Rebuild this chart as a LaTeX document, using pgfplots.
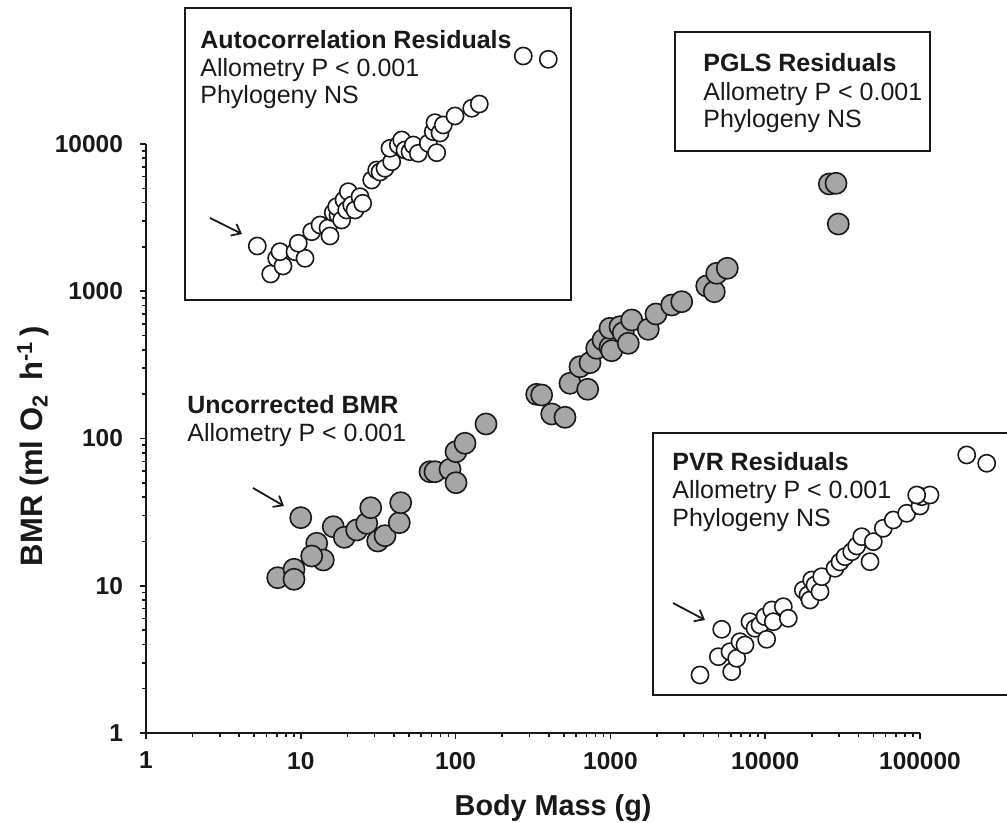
\documentclass[border=0pt]{standalone}
\usepackage{fontspec}
\setmainfont{Liberation Sans}
\usepackage{pgfplots}
\pgfplotsset{compat=1.18}
\usetikzlibrary{arrows.meta}
\definecolor{dotgray}{RGB}{166,166,166}
\definecolor{ink}{RGB}{25,25,25}

% uncorrected BMR (grey)
\pgfplotstableread{
mass bmr
9.99 29.0
7.09 11.34
9.04 12.93
9.04 11.06
12.67 19.43
13.98 14.96
11.76 15.92
16.21 25.18
19.10 21.33
22.97 23.91
26.66 26.56
28.29 33.89
31.39 20.13
34.99 21.88
43.28 26.81
44.19 36.64
68.33 59.5
73.6 59.5
92.0 61.8
100.6 50.1
100.6 81.4
115.0 92.8
157.2 125.5
334.1 199.6
359.8 197.4
417.7 146.7
508.9 139.3
548.2 237.1
713.5 215.9
636.1 307.3
738.3 327.2
815.6 410.0
896 467
994.0 416.4
1019.5 394.8
994.0 560.2
1153 574.4
1211 523.0
1305 443.0
1373 638.0
1757 551.5
1970 700.7
2489 806.5
2888 849.2
4190 1086
4691 993
4861 1324
5691 1432
25950 5350
28670 5408
29660 2861
}\uncorrected

% autocorrelation residuals (white, top-left panel)
\pgfplotstableread{
mass bmr
273.7 39590
397.1 37600
5.236 2029
6.391 1310
6.987 1674
7.674 1484
7.338 1856
9.173 1856
10.65 1674
9.634 2117
11.76 2537
13.31 2818
14.99 2688
15.44 2373
16.21 3416
17.4 3294
17.06 3752
18.37 3047
19.01 4166
19.79 3562
20.27 4744
21.32 3852
22.39 3562
24.13 4387
25.11 3956
28.71 5693
30.93 6658
32.48 6452
34.99 6839
38.66 7584
37.69 9350
42.65 9845
44.86 10650
47.11 9106
50.75 8866
53.30 9845
57.41 8646
66.62 10110
75.48 8729
71.78 12120
73.6 13950
79.30 11875
83.27 13460
99.1 15500
127.1 17480
142.3 18690
}\autocorr

% PVR residuals (white, bottom-right panel)
\pgfplotstableread{
mass bmr
200300 77.3
269700 67.9
3792 2.477
4979 3.298
5236 5.061
5923 3.565
6075 2.608
6545 3.216
6875 4.169
7405 3.959
7977 5.699
8595 5.141
9256 5.412
9970 6.164
10220 4.328
11020 6.843
11280 5.699
13090 7.206
14100 6.011
17630 9.357
18900 8.653
19470 8.003
19970 10.94
20970 10.12
22600 9.113
23170 11.52
28240 13.14
30420 14.50
32770 15.75
36220 17.03
39000 18.62
42020 21.54
47530 14.57
49930 19.92
57930 24.55
67220 27.96
82040 31.05
100000 34.8
102600 40.26
116000 41.33
95210 41.33
}\pvr

\begin{document}
\begin{tikzpicture}
\useasboundingbox (0,0) rectangle (503.5pt,411.5pt);

\begin{axis}[
    at={(73pt,45pt)}, anchor=south west,
    scale only axis, width=387pt, height=294.5pt,
    xmode=log, ymode=log,
    xmin=1, xmax=100000, ymin=1, ymax=10000,
    axis x line*=bottom, axis y line*=left,
    axis line style={ink, line width=1pt},
    clip=false,
    tick align=outside,
    major tick length=3pt, minor tick length=2pt,
    every tick/.style={ink, line width=0.8pt},
    xtick={1,10,100,1000,10000,100000},
    xticklabels={1,10,100,1000,10000,100000},
    minor xtick={2,3,4,5,6,7,8,9,20,30,40,50,60,70,80,90,200,300,400,500,600,700,800,900,2000,3000,4000,5000,6000,7000,8000,9000,20000,30000,40000,50000,60000,70000,80000,90000},
    ytick={1,10,100,1000,10000},
    yticklabels={1,10,100,1000,10000},
    minor ytick={2,3,4,5,6,7,8,9,20,30,40,50,60,70,80,90,200,300,400,500,600,700,800,900,2000,3000,4000,5000,6000,7000,8000,9000},
    ticklabel style={font=\bfseries\fontsize{12.25}{14}\selectfont, text=ink},
    xticklabel style={yshift=-3pt},
    yticklabel style={xshift=-5pt},
    xlabel={Body Mass (g)},
    ylabel={BMR (ml O\textsubscript{2}\, h\textsuperscript{-1}\,)},
    xlabel style={font=\bfseries\fontsize{14.4}{16}\selectfont, text=ink,
        at={(axis description cs:0.526,-0.127)}, anchor=center},
    ylabel style={font=\bfseries\fontsize{15.5}{17}\selectfont, text=ink,
        at={(axis description cs:-0.146,0.487)}, anchor=center},
]
\addplot[only marks, mark=*, mark size=5.3pt,
    mark options={fill=dotgray, draw=ink, line width=0.8pt}]
    table[x=mass, y=bmr] {\uncorrected};
\addplot[only marks, mark=*, mark size=4.3pt,
    mark options={fill=white, draw=ink, line width=0.8pt}]
    table[x=mass, y=bmr] {\autocorr};
\addplot[only marks, mark=*, mark size=4.3pt,
    mark options={fill=white, draw=ink, line width=0.8pt}]
    table[x=mass, y=bmr] {\pvr};
\end{axis}

% annotations, in pixel units measured from the top-left corner
\begin{scope}[x=0.5pt, y=-0.5pt, yshift=411.5pt]
  \draw[ink, line width=1pt] (185,8) rectangle (571,300);
  \draw[ink, line width=1pt] (675,32) rectangle (930,151);
  \draw[ink, line width=1pt] (1010,433) -- (653,433) -- (653,695) -- (1010,695);

  \tikzset{lbl/.style={anchor=base west, inner sep=0pt, text=ink,
      font=\fontsize{12.5}{14}\selectfont},
    ttl/.style={lbl, font=\bfseries\fontsize{12.5}{14}\selectfont},
    pointer/.style={ink, line width=0.9pt,
      -{Straight Barb[length=4pt,width=6.5pt]}}}

  \node[ttl] at (200,49) {Autocorrelation Residuals};
  \node[lbl] at (200,77) {Allometry P < 0.001};
  \node[lbl] at (200,104) {Phylogeny NS};

  \node[ttl] at (703,72) {PGLS Residuals};
  \node[lbl] at (703,101) {Allometry P < 0.001};
  \node[lbl] at (703,128) {Phylogeny NS};

  \node[ttl] at (672,471) {PVR Residuals};
  \node[lbl] at (672,499) {Allometry P < 0.001};
  \node[lbl] at (672,527) {Phylogeny NS};

  \node[ttl] at (187,414) {Uncorrected BMR};
  \node[lbl] at (187,442) {Allometry P < 0.001};

  \draw[pointer] (210,218) -- (242,234);
  \draw[pointer] (253,488) -- (284,506);
  \draw[pointer] (673,603) -- (705,620);
\end{scope}
\end{tikzpicture}
\end{document}
